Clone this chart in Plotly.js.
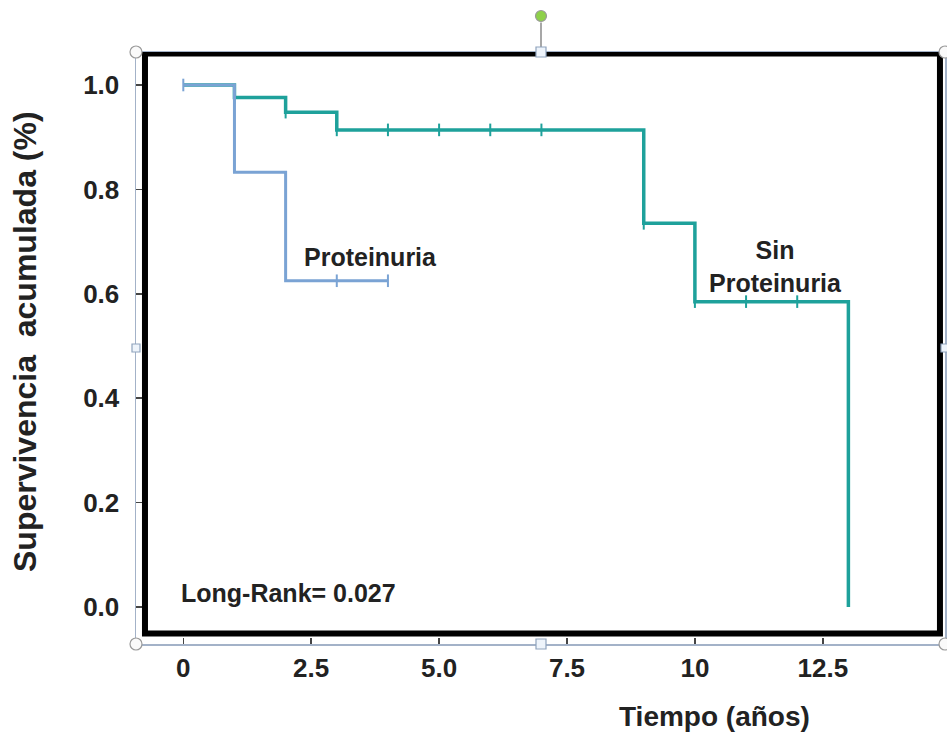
<!DOCTYPE html>
<html>
<head>
<meta charset="utf-8">
<script src="https://cdn.plot.ly/plotly-3.0.1.min.js"></script>
<style>html,body{margin:0;padding:0;background:#fff;}#chart{width:947px;height:733px;}</style>
</head>
<body>
<div id="chart"></div>
<script>
// ---- data ----
const protTime = [0, 1, 2, 4];
const protSurv = [1.0, 0.833, 0.625, 0.625];
const protCensTime = [0, 3, 4];
const protCensSurv = [1.0, 0.625, 0.625];

const sinTime = [0, 1, 2, 3, 9, 10, 13, 13];
const sinSurv = [1.0, 0.976, 0.948, 0.914, 0.735, 0.585, 0.585, 0.0];
const sinCensTime = [1, 2, 3, 4, 5, 6, 7, 9, 10, 11, 12];
const sinCensSurv = [0.976, 0.948, 0.914, 0.914, 0.914, 0.914, 0.914, 0.735, 0.585, 0.585, 0.585];

const xTickVals = [0, 2.5, 5, 7.5, 10, 12.5];
const xTickText = ['0', '2.5', '5.0', '7.5', '10', '12.5'];
const yTickVals = [0, 0.2, 0.4, 0.6, 0.8, 1.0];
const yTickText = ['0.0', '0.2', '0.4', '0.6', '0.8', '1.0'];

const blue = 'rgb(122,163,212)';
const teal = 'rgb(30,161,155)';
const FONT = 'Liberation Sans, Arial, sans-serif';

const traces = [
  {x: sinTime, y: sinSurv, mode: 'lines', line: {shape: 'hv', color: teal, width: 3.5}, hoverinfo: 'skip', showlegend: false},
  {x: sinCensTime, y: sinCensSurv, mode: 'markers', marker: {symbol: 'line-ns', size: 9, line: {width: 2, color: teal}}, hoverinfo: 'skip', showlegend: false},
  {x: protTime, y: protSurv, mode: 'lines', line: {shape: 'hv', color: blue, width: 3}, hoverinfo: 'skip', showlegend: false},
  {x: protCensTime, y: protCensSurv, mode: 'markers', marker: {symbol: 'line-ns', size: 9, line: {width: 2, color: blue}}, hoverinfo: 'skip', showlegend: false}
];

// handles of selection box (paper coords)
function circ(px, py, r, fill, lc) {
  return {type: 'circle', xref: 'paper', yref: 'paper', xsizemode: 'pixel', ysizemode: 'pixel',
    xanchor: px, yanchor: py, x0: -r, x1: r, y0: -r, y1: r, fillcolor: fill, line: {color: lc, width: 1.2}, layer: 'above'};
}
function sq(px, py, r) {
  return {type: 'rect', xref: 'paper', yref: 'paper', xsizemode: 'pixel', ysizemode: 'pixel',
    xanchor: px, yanchor: py, x0: -r, x1: r, y0: -r, y1: r, fillcolor: '#eef4fb', line: {color: '#8fa3bd', width: 1.2}, layer: 'above'};
}
const midX = (541 - 136) / 809;
const shapes = [
  {type: 'rect', xref: 'x', yref: 'y', x0: -0.749, x1: 14.79, y0: -0.0508, y1: 1.0603,
    line: {color: '#000', width: 6}, fillcolor: 'rgba(0,0,0,0)', layer: 'above'},
  {type: 'line', xref: 'paper', yref: 'paper', x0: midX, x1: midX, y0: 1.0, y1: 1.05, line: {color: '#8a8a8a', width: 1.5}, layer: 'above'},
  circ(0, 0, 6, '#fafafa', '#9a9a9a'), circ(1, 0, 6, '#fafafa', '#9a9a9a'),
  circ(0, 1, 6, '#fafafa', '#9a9a9a'), circ(1, 1, 6, '#fafafa', '#9a9a9a'),
  sq(midX, 1, 5), sq(midX, 0, 5), sq(0, 0.5, 4), sq(1, 0.5, 4),
  circ(midX, 1.0608, 5.5, '#8ed04a', '#9a9a9a')
];

const annotations = [
  {x: 3.65, y: 0.671, xref: 'x', yref: 'y', xanchor: 'center', yanchor: 'middle', text: '<b>Proteinuria</b>', showarrow: false,
    font: {family: FONT, size: 25, color: '#222'}},
  {x: 11.57, y: 0.653, xref: 'x', yref: 'y', xanchor: 'center', yanchor: 'middle', text: '<b>Sin</b><br><b>Proteinuria</b>', showarrow: false,
    font: {family: FONT, size: 25, color: '#222'}},
  {x: -0.084, y: 0.027, xref: 'x', yref: 'y', xanchor: 'left', yanchor: 'middle', text: '<b>Long-Rank= 0.027</b>', showarrow: false,
    font: {family: FONT, size: 25, color: '#222'}},
  {x: (714 - 136) / 809, y: (644 - 716) / 592, xref: 'paper', yref: 'paper', xanchor: 'center', yanchor: 'middle',
    text: '<b>Tiempo (años)</b>', showarrow: false,
    font: {family: FONT, size: 28, color: '#222'}},
  {x: (25 - 136) / 809, y: (644 - 342) / 592, xref: 'paper', yref: 'paper', xanchor: 'center', yanchor: 'middle', textangle: -90,
    text: '<b>Supervivencia&nbsp;&nbsp;acumulada (%)</b>', showarrow: false,
    font: {family: FONT, size: 32, color: '#222'}}
];

const layout = {
  width: 947, height: 733,
  margin: {l: 136, r: 2, t: 52, b: 89},
  paper_bgcolor: '#fff', plot_bgcolor: '#fff',
  font: {family: FONT, color: '#222'},
  xaxis: {
    range: [(136 - 183.3) / 51.16, (945 - 183.3) / 51.16],
    tickmode: 'array', tickvals: xTickVals, ticktext: xTickText.map(t => '<b>' + t + '</b>'),
    ticks: 'inside', ticklen: 6, tickwidth: 1.5, tickcolor: '#444',
    showline: true, mirror: true, linecolor: '#a3b2c8', linewidth: 1.5,
    showgrid: false, zeroline: false,
    tickfont: {family: FONT, size: 26, color: '#222'}, ticklabelstandoff: 0
  },
  yaxis: {
    range: [(607 - 644) / 522, (607 - 52) / 522],
    tickmode: 'array', tickvals: yTickVals, ticktext: yTickText.map(t => '<b>' + t + '</b>'),
    ticks: 'inside', ticklen: 6, tickwidth: 1.5, tickcolor: '#444',
    showline: true, mirror: true, linecolor: '#a3b2c8', linewidth: 1.5,
    showgrid: false, zeroline: false,
    tickfont: {family: FONT, size: 26, color: '#222'}, ticklabelstandoff: 10
  },
  shapes: shapes,
  annotations: annotations
};

Plotly.newPlot('chart', traces, layout, {displayModeBar: false, staticPlot: true});
</script>
</body>
</html>
